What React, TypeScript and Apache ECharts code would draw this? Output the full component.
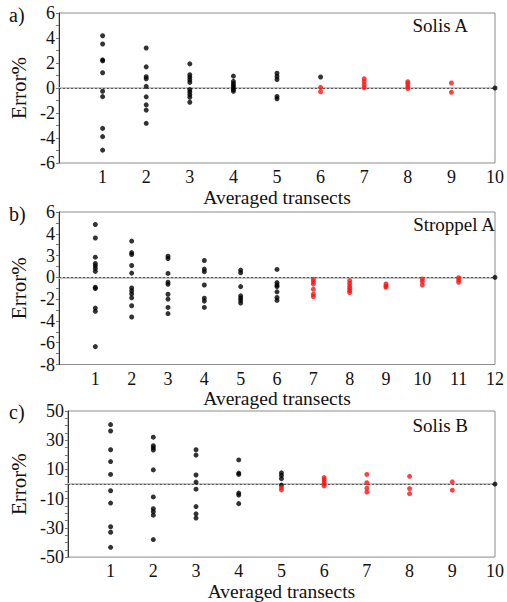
import React, { useEffect, useRef } from "react";
import * as echarts from "echarts";

// Panel a) Solis A — values per number of averaged transects (index 0 => 1 transect)
const solisABlack: number[][] = [
  [4.18, 3.52, 2.25, 2.17, 1.22, -0.26, -0.69, -3.23, -3.89, -4.97],
  [3.2, 1.69, 0.9, 0.74, 0.13, -0.71, -1.35, -1.77, -2.83],
  [1.93, 1.06, 0.87, 0.66, 0.45, -0.13, -0.32, -0.53, -0.74, -1.14],
  [0.95, 0.53, 0.34, 0.19, 0.03, -0.13, -0.26],
  [1.18, 0.92, 0.68, -0.68, -0.86],
  [0.88],
  [],
  [],
  [],
  [0],
];
const solisARed: number[][] = [
  [], [], [], [], [],
  [0.05, -0.3],
  [0.74, 0.5, 0.26, 0.02],
  [0.5, 0.34, 0.13, -0.05],
  [0.4, -0.34],
  [],
];

// Panel b) Stroppel A
const stroppelABlack: number[][] = [
  [4.85, 3.61, 1.85, 1.27, 1.06, 0.82, 0.55, -0.91, -1.03, -2.82, -3.12, -6.36],
  [3.33, 2.27, 2.09, 1.09, 0.39, -0.97, -1.24, -1.52, -1.88, -2.61, -3.64],
  [1.94, 1.73, 0.36, -0.45, -0.64, -1.55, -2.0, -2.76, -3.33],
  [1.55, 0.76, 0.52, -0.7, -1.91, -2.18, -2.76],
  [0.67, 0.42, -0.85, -1.7, -1.91, -2.12, -2.36],
  [0.73, -0.48, -0.7, -0.85, -1.33, -1.85, -2.12],
  [], [], [], [], [],
  [0],
];
const stroppelARed: number[][] = [
  [], [], [], [], [], [],
  [-0.18, -0.39, -0.61, -1.09, -1.55, -1.76],
  [-0.3, -0.55, -0.79, -1.0, -1.21, -1.39],
  [-0.61, -0.79, -0.91],
  [-0.15, -0.39, -0.7],
  [-0.03, -0.24, -0.45],
  [],
];

// Panel c) Solis B
const solisBBlack: number[][] = [
  [40.7, 36.3, 23.5, 15.4, 6.6, -4.6, -13.0, -29.2, -33.0, -43.3],
  [32.1, 26.2, 24.8, 23.3, 9.7, -8.8, -16.9, -18.9, -21.3, -38.0],
  [23.5, 19.8, 6.2, 1.3, -3.5, -15.4, -20.4, -23.3],
  [16.5, 7.5, 6.6, -6.2, -7.5, -13.4],
  [7.7, 5.9, 3.7, -0.7],
  [], [], [], [],
  [0],
];
const solisBRed: number[][] = [
  [], [], [], [],
  [-2.4, -4.0],
  [4.4, 3.1, 1.5, 0, -1.3],
  [6.6, 0.9, -2.9, -5.5],
  [5.3, -3.1, -6.6],
  [1.5, -4.2],
  [],
];

// Tick labels
const yTicksA = ["6", "4", "2", "0", "-2", "-4", "-6"];
const yTickValuesA = [6, 4, 2, 0, -2, -4, -6];
const yTicksB = ["6", "4", "3", "0", "-2", "-4", "-6", "-8"];
const yTickValuesB = [6, 4, 2, 0, -2, -4, -6, -8];
const yTicksC = ["50", "30", "10", "-10", "-30", "-50"];
const yTickValuesC = [50, 30, 10, -10, -30, -50];

const panelLetters = ["a)", "b)", "c)"];
const panelTitles = ["Solis A", "Stroppel A", "Solis B"];
const xMaxes = [10, 12, 10];
const xTitle = "Averaged transects";
const yTitle = "Error%";

const FONT = "'Liberation Serif', 'Times New Roman', serif";

function toPoints(groups: number[][]): number[][] {
  const out: number[][] = [];
  groups.forEach((ys, i) => ys.forEach((y) => out.push([i + 1, y])));
  return out;
}

function labelFrom(values: number[], labels: string[]) {
  return (v: number) => {
    const idx = values.findIndex((t) => Math.abs(t - v) < 1e-9);
    return idx >= 0 ? labels[idx] : "";
  };
}

export default function App() {
  const ref = useRef<HTMLDivElement>(null);

  useEffect(() => {
    document.body.style.margin = "0";
    if (!ref.current) return;
    const chart = echarts.init(ref.current, undefined, { renderer: "svg" });

    const grids = [
      { top: 13, height: 150 },
      { top: 212, height: 152.5 },
      { top: 411, height: 152 },
    ];
    const yDefs = [
      { min: -6, max: 6, interval: 2, minor: 2, fmt: labelFrom(yTickValuesA, yTicksA) },
      { min: -8, max: 6, interval: 2, minor: 2, fmt: labelFrom(yTickValuesB, yTicksB) },
      { min: -50, max: 50, interval: 10, minor: 2, fmt: labelFrom(yTickValuesC, yTicksC) },
    ];
    const nameGaps = [24, 18, 19];
    const blacks = [solisABlack, stroppelABlack, solisBBlack];
    const reds = [solisARed, stroppelARed, solisBRed];

    const series: any[] = [];
    blacks.forEach((b, i) => {
      series.push({
        type: "scatter",
        xAxisIndex: i,
        yAxisIndex: i,
        symbolSize: 5,
        itemStyle: { color: "#000" },
        data: toPoints(b),
        z: 3,
        markLine: {
          silent: true,
          symbol: "none",
          label: { show: false },
          lineStyle: { color: "#555", type: [2, 2], width: 1 },
          data: [{ yAxis: 0 }],
          z: 1,
        },
      });
      series.push({
        type: "scatter",
        xAxisIndex: i,
        yAxisIndex: i,
        symbolSize: 5,
        itemStyle: { color: "#ff1414" },
        data: toPoints(reds[i]),
        z: 3,
      });
    });

    const graphic: any[] = [];
    const letterY = [15, 213.5, 411.5];
    const titleX = [468, 495, 468];
    const titleY = [25, 224, 425];
    panelLetters.forEach((t, i) => {
      graphic.push({
        type: "text",
        x: 9,
        y: letterY[i],
        style: { text: t, font: `20px ${FONT}`, fill: "#111", verticalAlign: "middle", align: "left" },
      });
      graphic.push({
        type: "text",
        x: titleX[i],
        y: titleY[i],
        style: { text: panelTitles[i], font: `19px ${FONT}`, fill: "#111", verticalAlign: "middle", align: "right" },
      });
    });

    chart.setOption({
      animation: false,
      backgroundColor: "#fff",
      grid: grids.map((g) => ({
        left: 59,
        right: 7,
        top: g.top,
        height: g.height,
        show: true,
        borderColor: "#8c8c8c",
        borderWidth: 1,
        backgroundColor: "transparent",
      })),
      xAxis: xMaxes.map((mx, i) => ({
        gridIndex: i,
        type: "value",
        min: 0,
        max: mx,
        interval: 1,
        name: xTitle,
        nameLocation: "middle",
        nameGap: nameGaps[i],
        nameTextStyle: { fontFamily: FONT, fontSize: 19.5, color: "#111" },
        axisLine: { show: true, lineStyle: { color: "#c4c4c4", width: 2 } },
        axisTick: { show: false },
        splitLine: { show: false },
        axisLabel: {
          fontFamily: FONT,
          fontSize: 18,
          color: "#111",
          margin: 5,
          formatter: (v: number) => (v === 0 ? "" : String(v)),
        },
      })),
      yAxis: yDefs.map((d, i) => ({
        gridIndex: i,
        type: "value",
        min: d.min,
        max: d.max,
        interval: d.interval,
        name: yTitle,
        nameLocation: "middle",
        nameGap: 23,
        nameTextStyle: { fontFamily: FONT, fontSize: 21, color: "#111" },
        axisLine: { show: true, lineStyle: { color: "#333", width: 1 } },
        axisTick: { show: true, length: 3, lineStyle: { color: "#777" } },
        minorTick: { show: true, splitNumber: d.minor, length: 3, lineStyle: { color: "#777" } },
        splitLine: { show: false },
        axisLabel: {
          fontFamily: FONT,
          fontSize: 18,
          color: "#111",
          margin: 4,
          showMinLabel: true,
          showMaxLabel: true,
          formatter: d.fmt,
        },
      })),
      series,
      graphic,
    });

    return () => chart.dispose();
  }, []);

  return <div ref={ref} style={{ width: 507, height: 602 }} />;
}
